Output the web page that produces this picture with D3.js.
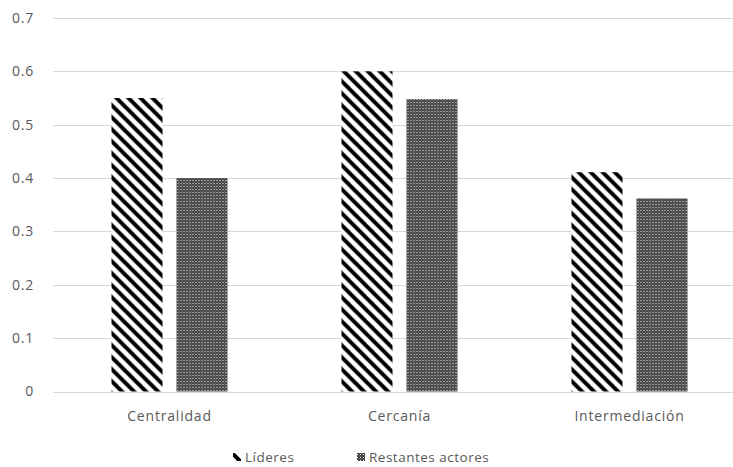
<!DOCTYPE html>
<html>
<head>
<meta charset="utf-8">
<script src="https://cdn.jsdelivr.net/npm/d3@7"></script>
<style>
  html, body { margin: 0; padding: 0; background: #fff; }
  svg { display: block; }
  text { font-family: "Open Sans", "Noto Sans", sans-serif; fill: #595959; }
</style>
</head>
<body>
<svg id="chart" width="733" height="467"></svg>
<script>
// Network indicators per group
const categories = ["Centralidad", "Cercanía", "Intermediación"];
const seriesNames = ["Líderes", "Restantes actores"];
const lideres = [0.55, 0.60, 0.411];
const restantes = [0.40, 0.548, 0.362];
const yTicks = [0, 0.1, 0.2, 0.3, 0.4, 0.5, 0.6, 0.7];

const values = [lideres, restantes];
const rows = categories.map((c, i) => ({
  category: c,
  items: seriesNames.map((s, j) => ({ series: s, value: values[j][i] }))
}));

const svg = d3.select("#chart");
const plotLeft = 54.5, plotRight = 744.5, plotTop = 18, plotBottom = 391.5;
const fontSize = "14px", spacing = "0.8px";

const x0 = d3.scaleBand().domain(categories).range([plotLeft, plotRight]).padding(0);
const x1 = d3.scaleBand().domain(seriesNames)
  .range([57, 173]).paddingInner(14 / 65).paddingOuter(0);
const y = d3.scaleLinear().domain([0, 0.7]).range([plotBottom, plotTop]);

// Fill patterns
const defs = svg.append("defs");
const P = 12;
const stripe = defs.append("pattern")
  .attr("id", "pat-stripe").attr("patternUnits", "userSpaceOnUse")
  .attr("width", P).attr("height", P);
stripe.append("rect").attr("width", P).attr("height", P).attr("fill", "#fff");
stripe.append("path")
  .attr("d", `M-4,-4 L${P + 4},${P + 4} M-4,${P - 4} L4,${P + 4} M${P - 4},-4 L${P + 4},4`)
  .attr("stroke", "#000").attr("stroke-width", 4);

const dots = defs.append("pattern")
  .attr("id", "pat-dots").attr("patternUnits", "userSpaceOnUse")
  .attr("width", 3).attr("height", 3);
dots.append("rect").attr("width", 3).attr("height", 3).attr("fill", "#3a3a3a");
dots.append("rect").attr("x", 0).attr("y", 0).attr("width", 1).attr("height", 1).attr("fill", "#fff");
dots.append("rect").attr("x", 1.5).attr("y", 1.5).attr("width", 1).attr("height", 1).attr("fill", "#bbb");

const fills = { "Líderes": "url(#pat-stripe)", "Restantes actores": "url(#pat-dots)" };

// Gridlines
svg.append("g").selectAll("line").data(yTicks).join("line")
  .attr("x1", plotLeft - 1).attr("x2", plotRight)
  .attr("y1", d => Math.round(y(d)) + 0.5).attr("y2", d => Math.round(y(d)) + 0.5)
  .attr("stroke", "#d9d9d9").attr("stroke-width", 1);

// Y axis labels
const yAxis = d3.axisLeft(y).tickValues(yTicks).tickFormat(d => d === 0 ? "0" : d3.format(".1f")(d)).tickSize(0).tickPadding(0);
const gy = svg.append("g").attr("transform", "translate(34,0)").call(yAxis);
gy.select(".domain").remove();
gy.selectAll("text").style("font-size", fontSize).style("letter-spacing", spacing)
  .attr("fill", "#595959").style("font-family", "'Open Sans', sans-serif");

// Bars
const groups = svg.append("g").selectAll("g").data(rows).join("g")
  .attr("transform", d => `translate(${x0(d.category)},0)`);
groups.selectAll("rect").data(d => d.items).join("rect")
  .attr("x", d => x1(d.series))
  .attr("y", d => y(d.value))
  .attr("width", x1.bandwidth())
  .attr("height", d => y(0) - y(d.value))
  .attr("fill", d => fills[d.series]);

// X axis labels
const xAxis = d3.axisBottom(x0).tickSize(0).tickPadding(0);
const gx = svg.append("g").attr("transform", "translate(0,411)").call(xAxis);
gx.select(".domain").remove();
gx.selectAll("text").style("font-size", fontSize).style("letter-spacing", spacing)
  .attr("fill", "#595959").style("font-family", "'Open Sans', sans-serif");

// Legend
const legendPos = [233, 357];
const legend = svg.append("g").selectAll("g").data(seriesNames).join("g")
  .attr("transform", (d, i) => `translate(${legendPos[i]},454)`);
legend.append("rect").attr("width", 8).attr("height", 8).attr("y", -1)
  .attr("fill", d => fills[d]);
legend.append("text").attr("x", 12).attr("y", 8)
  .style("font-size", "13.5px").style("letter-spacing", "0.5px").text(d => d);
</script>
</body>
</html>
